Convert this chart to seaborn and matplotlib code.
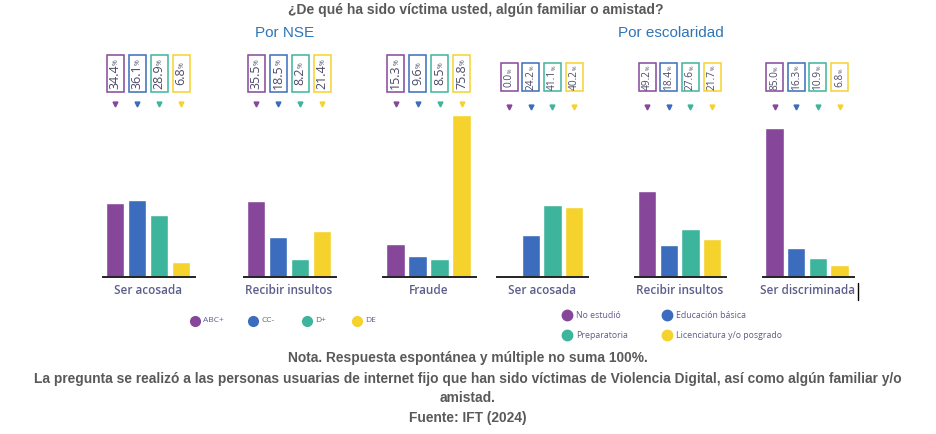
import matplotlib
matplotlib.use("Agg")
import matplotlib.pyplot as plt
import matplotlib.patches as mpatches
import seaborn as sns
import pandas as pd

# ---------------- data ----------------
nse_levels = ["ABC+", "CC-", "D+", "DE"]
esc_levels = ["No estudió", "Educación básica", "Preparatoria", "Licenciatura y/o posgrado"]

nse_groups = ["Ser acosada", "Recibir insultos", "Fraude"]
nse_ser_acosada = [34.4, 36.1, 28.9, 6.8]
nse_recibir_insultos = [35.5, 18.5, 8.2, 21.4]
nse_fraude = [15.3, 9.6, 8.5, 75.8]

esc_groups = ["Ser acosada", "Recibir insultos", "Ser discriminada"]
esc_ser_acosada = [0.0, 24.2, 41.1, 40.2]
esc_recibir_insultos = [49.2, 18.4, 27.6, 21.7]
esc_ser_discriminada = [85.0, 16.3, 10.9, 6.8]

colors = ["#86479b", "#3b6cbd", "#3db59c", "#f6d22c"]

title = "¿De qué ha sido víctima usted, algún familiar o amistad?"
panel_titles = ["Por NSE", "Por escolaridad"]
notes = [
    "Nota. Respuesta espontánea y múltiple no suma 100%.",
    "La pregunta se realizó a las personas usuarias de internet fijo que han sido víctimas de Violencia Digital, así como algún familiar y/o",
    "amistad.",
    "Fuente: IFT (2024)",
]

# ---------------- figure ----------------
W, H = 936, 434
DPI = 100
sns.set_theme(style="white")
plt.rcParams["font.family"] = ["Open Sans", "DejaVu Sans"]
fig = plt.figure(figsize=(W / DPI, H / DPI), dpi=DPI)
fig.patch.set_facecolor("white")

label_col = "#5d5d8c"
text_col = "#4a4a68"

baseline_y = 277
top_y = 110

# overlay in pixel coordinates (y from the top)
ov = fig.add_axes([0, 0, 1, 1], zorder=5)
ov.set_xlim(0, W)
ov.set_ylim(H, 0)
ov.axis("off")
ov.patch.set_alpha(0)

renderer = fig.canvas.get_renderer()


def draw_group(values, levels, name, bar0_px, spacing, px_per_pct, width_frac,
               box_top, box_h, tri_y, num_fs):
    left = bar0_px - spacing * 0.55
    right = bar0_px + spacing * 3.65
    ax = fig.add_axes([left / W, 1 - baseline_y / H, (right - left) / W, (baseline_y - top_y) / H])
    df = pd.DataFrame({"cat": levels, "val": values})
    sns.barplot(data=df, x="cat", y="val", hue="cat", palette=colors, order=levels,
                hue_order=levels, legend=False, width=width_frac, ax=ax, saturation=1)
    ax.set_xlim(-0.55, 3.65)
    ax.set_ylim(0, (baseline_y - top_y) / px_per_pct)
    ax.set_xlabel("")
    ax.set_ylabel("")
    ax.set_xticks([])
    ax.set_yticks([])
    for s in ["top", "right", "left"]:
        ax.spines[s].set_visible(False)
    ax.spines["bottom"].set_color("#222222")
    ax.spines["bottom"].set_linewidth(1.4)
    ax.patch.set_alpha(0)
    centers = [ax.transData.transform((i, 0))[0] for i in range(len(values))]
    for cx, v, c in zip(centers, values, colors):
        ov.add_patch(mpatches.Rectangle((cx - 8.5, box_top), 17, box_h, fc="white",
                                        ec=c, lw=1.1))
        mid = box_top + box_h / 2 + 3
        t = ov.text(cx, mid, f"{v:.1f}", rotation=90, ha="center", va="center",
                    fontsize=num_fs, color=text_col)
        ext = t.get_window_extent(renderer)
        top_px = H - ext.y1
        ov.text(cx + 1.5, top_px + 0.5, "%", rotation=90, ha="center", va="bottom",
                fontsize=num_fs * 0.55, color=text_col)
        ov.plot([cx], [tri_y], marker="v", ms=3.5, color=c)
    gcx = (centers[1] + centers[2]) / 2
    ov.text(gcx, 290, name, ha="center", va="center", fontsize=8.5,
            color=label_col, fontweight="semibold")
    return ax


nse_vals = [nse_ser_acosada, nse_recibir_insultos, nse_fraude]
nse_bar0 = [115, 256, 395.5]
for vals, name, b0 in zip(nse_vals, nse_groups, nse_bar0):
    draw_group(vals, nse_levels, name, b0, 22, 2.14, 0.86, 55, 37, 104, 9)

esc_vals = [esc_ser_acosada, esc_recibir_insultos, esc_ser_discriminada]
esc_bar0 = [509, 647, 774.5]
for vals, name, b0 in zip(esc_vals, esc_groups, esc_bar0):
    draw_group(vals, esc_levels, name, b0, 21.7, 1.75, 0.84, 63, 28, 107, 7.3)

# ---------------- texts & legends ----------------
ov.text(476, 10, title, ha="center", va="center", fontsize=10, fontweight="bold",
        color="#595959", family=["Liberation Sans", "DejaVu Sans"])
ov.text(285, 33, panel_titles[0], ha="center", va="center", fontsize=11, color="#2e75b6",
        family=["Liberation Sans", "DejaVu Sans"])
ov.text(671, 33, panel_titles[1], ha="center", va="center", fontsize=11, color="#2e75b6",
        family=["Liberation Sans", "DejaVu Sans"])

# NSE legend
nse_leg_x = [195, 253, 307, 357]
for x, lab, c in zip(nse_leg_x, nse_levels, colors):
    ov.plot([x], [321], marker="o", ms=7, color=c, mec=c)
    ov.text(x + 8, 321, lab, ha="left", va="center", fontsize=6, color=label_col)

# Escolaridad legend
esc_leg_pos = [(567, 315), (667, 315), (567, 335), (667, 335)]
for (x, y), lab, c in zip(esc_leg_pos, esc_levels, colors):
    ov.plot([x], [y], marker="o", ms=7.5, color=c, mec=c)
    ov.text(x + 9, y, lab, ha="left", va="center", fontsize=6.3, color=label_col)

# stray cursor mark in the source image
ov.plot([858, 858], [283, 300], color="black", lw=1)

note_y = [358, 379, 398, 418]
for y, t in zip(note_y, notes):
    ov.text(468, y, t, ha="center", va="center", fontsize=9.9, fontweight="bold",
            color="#595959", family=["Liberation Sans", "DejaVu Sans"])

fig.savefig("out.png", dpi=DPI, facecolor="white")
